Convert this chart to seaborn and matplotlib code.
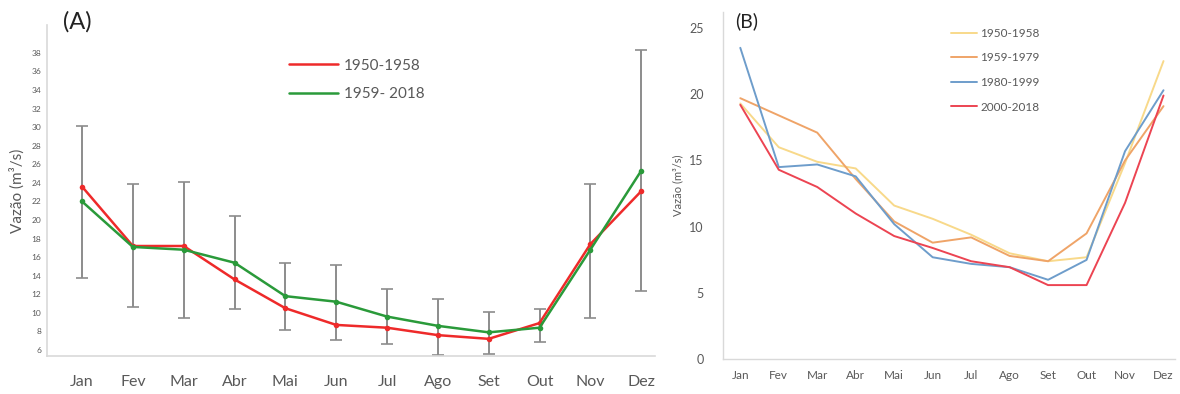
import matplotlib
matplotlib.use('Agg')
import matplotlib.pyplot as plt
import pandas as pd
import seaborn as sns

# Data
months = ['Jan', 'Fev', 'Mar', 'Abr', 'Mai', 'Jun', 'Jul', 'Ago', 'Set', 'Out', 'Nov', 'Dez']

# Panel A
a_1950_1958 = [23.6, 17.2, 17.2, 13.6, 10.5, 8.7, 8.4, 7.6, 7.2, 8.9, 17.4, 23.1]
a_1959_2018 = [22.0, 17.1, 16.8, 15.4, 11.8, 11.2, 9.6, 8.6, 7.9, 8.4, 16.8, 25.3]
err_top = [30.1, 23.9, 24.1, 20.4, 15.4, 15.2, 12.6, 11.5, 10.1, 10.4, 23.9, 38.3]
err_bottom = [13.8, 10.6, 9.4, 10.4, 8.2, 7.1, 6.6, 5.5, 5.6, 6.9, 9.4, 12.3]

# Panel B
b_1950_1958 = [19.3, 16.0, 14.9, 14.4, 11.6, 10.6, 9.4, 8.0, 7.4, 7.7, 14.8, 22.5]
b_1959_1979 = [19.7, 18.4, 17.1, 13.6, 10.4, 8.8, 9.2, 7.8, 7.4, 9.5, 15.0, 19.1]
b_1980_1999 = [23.5, 14.5, 14.7, 13.8, 10.2, 7.7, 7.2, 6.95, 6.0, 7.5, 15.7, 20.3]
b_2000_2018 = [19.2, 14.3, 13.0, 11.0, 9.3, 8.4, 7.4, 6.95, 5.6, 5.6, 11.8, 19.9]

df_a = pd.DataFrame({
    'month': months * 2,
    'value': a_1950_1958 + a_1959_2018,
    'period': ['1950-1958'] * 12 + ['1959- 2018'] * 12,
})
df_b = pd.DataFrame({
    'month': months * 4,
    'value': b_1950_1958 + b_1959_1979 + b_1980_1999 + b_2000_2018,
    'period': ['1950-1958'] * 12 + ['1959-1979'] * 12 + ['1980-1999'] * 12 + ['2000-2018'] * 12,
})

sns.set_style('white')
plt.rcParams['font.family'] = ['Lato', 'DejaVu Sans']

text_gray = '#595959'
spine_gray = '#D9D9D9'

fig = plt.figure(figsize=(11.8, 3.94), dpi=100)
ax_a = fig.add_axes([0.0398, 0.0964, 0.5152, 0.84])
ax_b = fig.add_axes([0.6127, 0.088, 0.3831, 0.8815])

# ---- Panel A ----
x = list(range(len(months)))
mid = [(t + b) / 2 for t, b in zip(err_top, err_bottom)]
half = [(t - b) / 2 for t, b in zip(err_top, err_bottom)]
ax_a.errorbar(x, mid, yerr=half, fmt='none', ecolor='#8C8C8C', elinewidth=1.4,
              capsize=4, capthick=1.2, zorder=1)
sns.lineplot(data=df_a, x='month', y='value', hue='period', sort=False,
             palette={'1950-1958': '#EE2A2A', '1959- 2018': '#2A9A3A'},
             marker='o', markersize=4, markeredgewidth=0, linewidth=1.8,
             ax=ax_a, zorder=3)
ax_a.set_xlim(-0.69, 11.27)
ax_a.set_ylim(5.35, 41)
ax_a.set_yticks(range(6, 40, 2))
ax_a.tick_params(axis='y', labelsize=6, colors=text_gray, length=3, width=0.8,
                 color=spine_gray, pad=1)
ax_a.tick_params(axis='x', labelsize=11.5, colors=text_gray, length=0, pad=14)
ax_a.set_xlabel('')
ax_a.set_ylabel('Vazão (m³/s)', fontsize=11, color=text_gray, labelpad=5)
for side in ['top', 'right']:
    ax_a.spines[side].set_visible(False)
for side in ['left', 'bottom']:
    ax_a.spines[side].set_color(spine_gray)
    ax_a.spines[side].set_linewidth(1.2)
handles, labels = ax_a.get_legend_handles_labels()
for h in handles:
    h.set_marker('')
ax_a.legend(handles, labels, loc='upper left', bbox_to_anchor=(0.375, 0.94),
            frameon=False, fontsize=11, labelcolor=text_gray, handlelength=3.2,
            handletextpad=0.4, labelspacing=0.95)
fig.text(0.053, 0.945, '(A)', fontsize=17, color='#222222', va='center')

# ---- Panel B ----
sns.lineplot(data=df_b, x='month', y='value', hue='period', sort=False,
             palette={'1950-1958': '#F8D98A', '1959-1979': '#EFA468',
                      '1980-1999': '#6E9DCB', '2000-2018': '#EC4452'},
             linewidth=1.4, ax=ax_b)
ax_b.set_xlim(-0.45, 11.3)
ax_b.set_ylim(0, 26.2)
ax_b.set_yticks([0, 5, 10, 15, 20, 25])
ax_b.tick_params(axis='y', labelsize=9, colors=text_gray, length=0, pad=14)
ax_b.tick_params(axis='x', labelsize=8.5, colors=text_gray, length=0, pad=8)
ax_b.set_xlabel('')
ax_b.set_ylabel('Vazão (m³/s)', fontsize=8, color=text_gray, labelpad=4)
for side in ['top', 'right']:
    ax_b.spines[side].set_visible(False)
for side in ['left', 'bottom']:
    ax_b.spines[side].set_color(spine_gray)
    ax_b.spines[side].set_linewidth(1.0)
ax_b.legend(loc='upper left', bbox_to_anchor=(0.48, 0.985), frameon=False,
            fontsize=8.5, labelcolor=text_gray, handlelength=2.2,
            handletextpad=0.3, labelspacing=1.15)
fig.text(0.623, 0.945, '(B)', fontsize=14, color='#222222', va='center')

fig.savefig('out.png', dpi=100)
